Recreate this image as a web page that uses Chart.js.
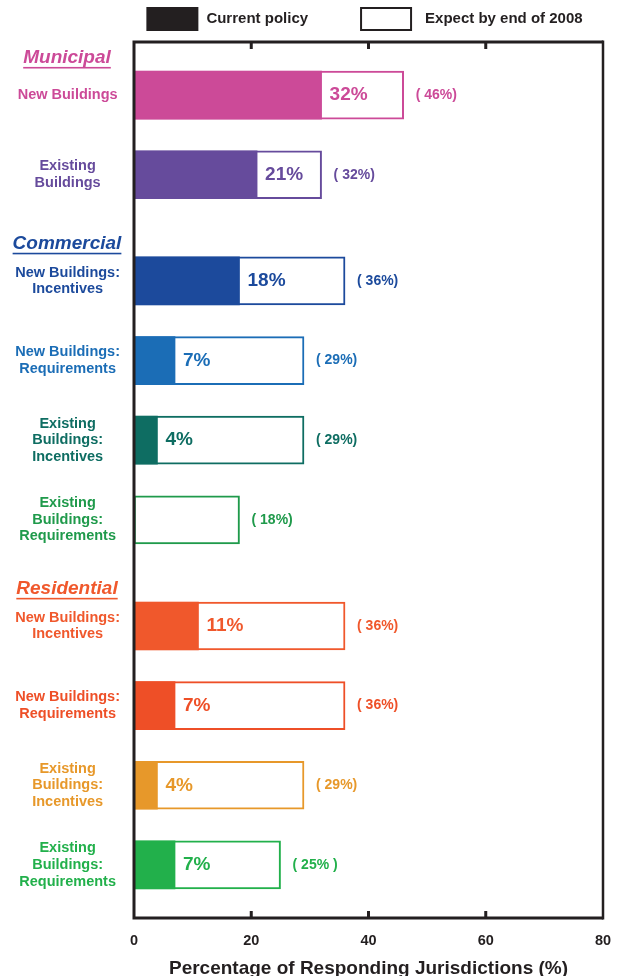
<!DOCTYPE html>
<html>
<head>
<meta charset="utf-8">
<script src="https://cdn.jsdelivr.net/npm/chart.js@4.4.1/dist/chart.umd.min.js"></script>
<style>
  html, body { margin: 0; padding: 0; background: #fff; }
  #contenedor { width: 618px; height: 976px; }
</style>
</head>
<body>
<div id="contenedor"><canvas id="grafico"></canvas></div>
<script>
// Datos
const grupos = ['Municipal', 'Commercial', 'Residential'];
const categorias = [
  ['New Buildings'],
  ['Existing', 'Buildings'],
  ['New Buildings:', 'Incentives'],
  ['New Buildings:', 'Requirements'],
  ['Existing', 'Buildings:', 'Incentives'],
  ['Existing', 'Buildings:', 'Requirements'],
  ['New Buildings:', 'Incentives'],
  ['New Buildings:', 'Requirements'],
  ['Existing', 'Buildings:', 'Incentives'],
  ['Existing', 'Buildings:', 'Requirements']
];
const grupoDeFila = [0, 0, 1, 1, 1, 1, 2, 2, 2, 2];
const politicaActual = [32, 21, 18, 7, 4, 0, 11, 7, 4, 7];
const esperado2008 = [46, 32, 36, 29, 29, 18, 36, 36, 29, 25];
const textosEsperado = ['( 46%)', '( 32%)', '( 36%)', '( 29%)', '( 29%)', '( 18%)', '( 36%)', '( 36%)', '( 29%)', '( 25% )'];
const ticksX = [0, 20, 40, 60, 80];

const colores = ['#cc4a98', '#664b9c', '#1c4a9c', '#1b6db6', '#0e6d62', '#1f9a4b', '#f0582c', '#ee4f27', '#e7982a', '#22b04b'];
const coloresGrupo = ['#cc4a98', '#1c4a9c', '#f0582c'];
const negro = '#231f20';
const fuente = "'Liberation Sans', Arial, Helvetica, sans-serif";

// Construir las filas de la escala con espacios entre barras y grupos
const etiquetasY = [];
const datosActual = [];
const datosEsperado = [];
const filaDeIndice = [];
const agregarEspacio = (n) => {
  for (let k = 0; k < n; k++) {
    etiquetasY.push('');
    datosActual.push(null);
    datosEsperado.push(null);
    filaDeIndice.push(-1);
  }
};
agregarEspacio(2);
categorias.forEach((cat, i) => {
  etiquetasY.push(cat);
  datosActual.push(politicaActual[i]);
  datosEsperado.push(esperado2008[i]);
  filaDeIndice.push(i);
  if (i < categorias.length - 1) {
    agregarEspacio(grupoDeFila[i + 1] !== grupoDeFila[i] ? 3 : 2);
  }
});
agregarEspacio(2);

const colorDe = (indice) => {
  const fila = filaDeIndice[indice];
  return fila >= 0 ? colores[fila] : 'rgba(0,0,0,0)';
};

// Marco del grafico con marcas hacia adentro
const pluginMarco = {
  id: 'marco',
  afterDatasetsDraw(chart) {
    const { ctx, chartArea: a, scales: { x } } = chart;
    ctx.save();
    ctx.strokeStyle = negro;
    ctx.lineWidth = 3;
    ctx.beginPath();
    ctx.moveTo(a.left, a.top);
    ctx.lineTo(a.right, a.top);
    ctx.moveTo(a.left, a.top - 1.5);
    ctx.lineTo(a.left, a.bottom + 1.5);
    ctx.moveTo(a.left, a.bottom);
    ctx.lineTo(a.right, a.bottom);
    ctx.stroke();
    ctx.lineWidth = 2.5;
    ctx.beginPath();
    ctx.moveTo(a.right, a.top - 1.5);
    ctx.lineTo(a.right, a.bottom + 1.5);
    ctx.stroke();
    ctx.lineWidth = 3;
    ctx.beginPath();
    ticksX.slice(1, -1).forEach(v => {
      const px = x.getPixelForValue(v);
      ctx.moveTo(px, a.top);
      ctx.lineTo(px, a.top + 7);
      ctx.moveTo(px, a.bottom);
      ctx.lineTo(px, a.bottom - 7);
    });
    ctx.stroke();
    ctx.restore();
  }
};

// Etiquetas de valores y titulos de grupo
const pluginEtiquetas = {
  id: 'etiquetas',
  afterDatasetsDraw(chart) {
    const { ctx, chartArea: a, scales: { x, y } } = chart;
    ctx.save();
    ctx.textBaseline = 'middle';
    ctx.textAlign = 'left';
    filaDeIndice.forEach((fila, indice) => {
      if (fila < 0) return;
      const py = y.getPixelForValue(indice);
      ctx.fillStyle = colores[fila];
      if (politicaActual[fila] > 0) {
        ctx.font = `bold 19px ${fuente}`;
        ctx.fillText(`${politicaActual[fila]}%`, x.getPixelForValue(politicaActual[fila]) + 8, py);
      }
      ctx.font = `bold 14px ${fuente}`;
      ctx.fillText(textosEsperado[fila], x.getPixelForValue(esperado2008[fila]) + 12, py);
    });

    // Titulos de grupo subrayados
    ctx.textAlign = 'center';
    ctx.font = `italic bold 19px ${fuente}`;
    grupos.forEach((nombre, g) => {
      const primera = filaDeIndice.indexOf(grupoDeFila.indexOf(g));
      const py = y.getPixelForValue(primera - 1.4);
      const cx = a.left / 2;
      const ancho = ctx.measureText(nombre).width;
      ctx.fillStyle = coloresGrupo[g];
      ctx.fillText(nombre, cx, py);
      ctx.fillRect(cx - ancho / 2, py + 9, ancho, 1.6);
    });
    ctx.restore();
  }
};

// Leyenda propia arriba del grafico
const pluginLeyenda = {
  id: 'leyendaPropia',
  afterDraw(chart) {
    const { ctx, chartArea: a } = chart;
    const items = chart.data.datasets.map(d => d.label);
    ctx.save();
    ctx.font = `bold 15px ${fuente}`;
    const anchoCaja = 52, altoCaja = 24, separacion = 52;
    const anchos = items.map(t => ctx.measureText(t).width);
    const total = anchoCaja * 2 + 8 + 13 + anchos[0] + anchos[1] + separacion;
    let px = (a.left + a.right) / 2 - 4 - total / 2;
    const cy = 19;
    // caja negra
    ctx.fillStyle = negro;
    ctx.fillRect(px, cy - altoCaja / 2, anchoCaja, altoCaja);
    ctx.textBaseline = 'middle';
    ctx.textAlign = 'left';
    ctx.fillText(items[0], px + anchoCaja + 8, cy);
    px += anchoCaja + 8 + anchos[0] + separacion;
    // caja blanca
    ctx.strokeStyle = negro;
    ctx.lineWidth = 2;
    ctx.strokeRect(px + 1, cy - altoCaja / 2 + 1, anchoCaja - 2, altoCaja - 2);
    ctx.fillText(items[1], px + anchoCaja + 13, cy);
    ctx.restore();
  }
};

const chartInstance = new Chart(document.querySelector('#grafico'), {
  type: 'bar',
  data: {
    labels: etiquetasY,
    datasets: [
      {
        label: 'Current policy',
        data: datosActual,
        backgroundColor: ctx => colorDe(ctx.dataIndex),
        borderWidth: 0,
        grouped: false,
        barThickness: 48
      },
      {
        label: 'Expect by end of 2008',
        data: datosEsperado,
        backgroundColor: '#ffffff',
        borderColor: ctx => colorDe(ctx.dataIndex),
        borderWidth: 2,
        borderSkipped: false,
        grouped: false,
        barThickness: 48
      }
    ]
  },
  options: {
    indexAxis: 'y',
    responsive: true,
    maintainAspectRatio: false,
    animation: false,
    layout: { padding: { top: 42, right: 15, left: 0, bottom: 0 } },
    plugins: {
      legend: { display: false },
      tooltip: { enabled: false }
    },
    scales: {
      x: {
        type: 'linear',
        position: 'bottom',
        min: 0,
        max: 80,
        afterBuildTicks: (escala) => { escala.ticks = ticksX.map(v => ({ value: v })); },
        ticks: {
          color: negro,
          padding: 6,
          font: { family: fuente, size: 14.5, weight: 'bold' }
        },
        grid: { display: false },
        border: { display: false },
        title: {
          display: true,
          text: 'Percentage of Responding Jurisdictions (%)',
          color: negro,
          padding: 0,
          font: { family: fuente, size: 19, weight: 'bold', lineHeight: 0.8 }
        },
        afterFit: (escala) => {
          escala.height = 58;
          escala.paddingLeft = 0;
          escala.paddingRight = 0;
        }
      },
      y: {
        type: 'category',
        offset: false,
        ticks: {
          autoSkip: false,
          crossAlign: 'center',
          padding: 6,
          color: ctx => colorDe(ctx.index),
          font: { family: fuente, size: 14.5, weight: 'bold', lineHeight: 1.15 }
        },
        grid: { display: false },
        border: { display: false },
        afterFit: (escala) => { escala.width = 134; }
      }
    }
  },
  plugins: [pluginMarco, pluginEtiquetas, pluginLeyenda]
});
</script>
</body>
</html>
